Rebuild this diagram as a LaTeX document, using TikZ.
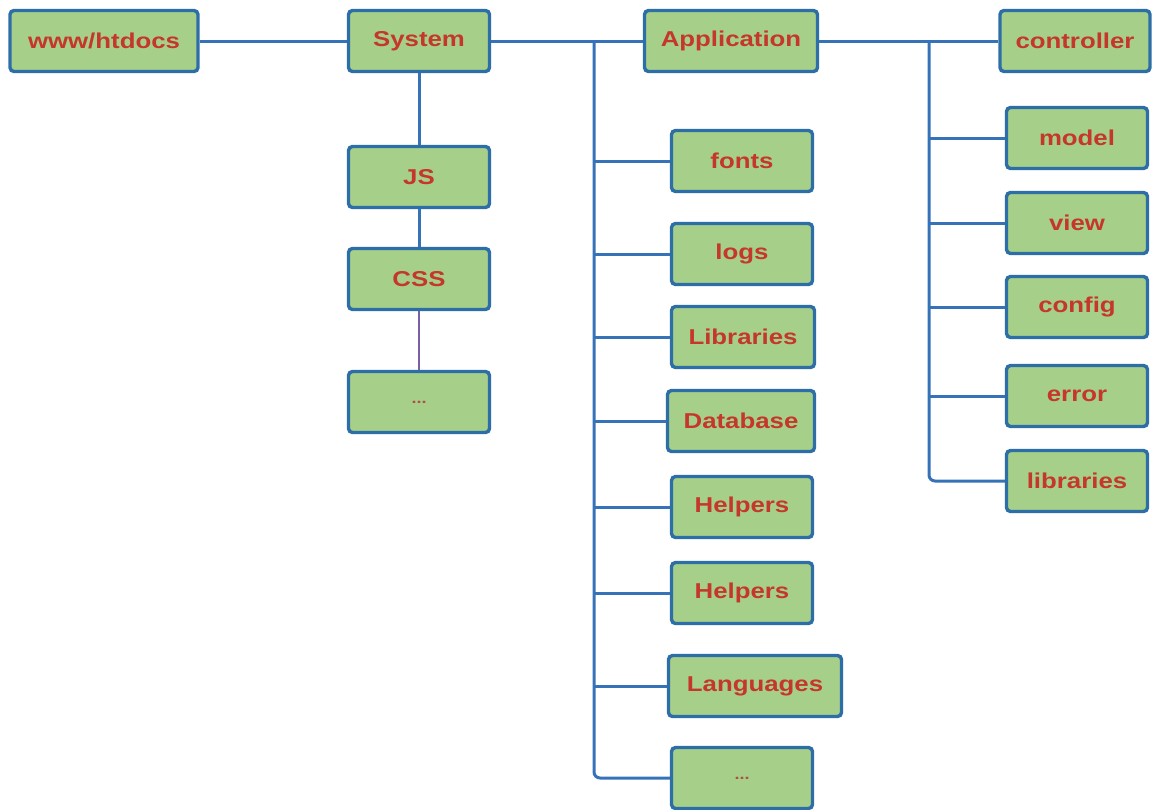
\documentclass[tikz,border=0pt]{standalone}
\usepackage{fontspec}
\newfontfamily\boxfont{Liberation Sans}[FakeStretch=1.2]
\definecolor{boxfill}{HTML}{A6D08A}
\definecolor{boxedge}{HTML}{2E6EA6}
\definecolor{linkblue}{HTML}{3572B8}
\definecolor{labelred}{HTML}{C5372A}
\definecolor{thinlink}{HTML}{7A5EA8}
\begin{document}
\begin{tikzpicture}[x=1pt,y=-1pt,
  folder/.style={draw=boxedge, line width=3.4pt, fill=boxfill, rounded corners=4pt,
    minimum width=141pt, minimum height=61pt, inner sep=0pt,
    font=\boxfont\bfseries\fontsize{21.5}{24}\selectfont, text=labelred},
  dots/.style={font=\boxfont\bfseries\fontsize{15}{17}\selectfont, text=labelred!70!gray},
  link/.style={draw=linkblue, line width=3pt},
  trunk/.style={link, rounded corners=6pt}]
\useasboundingbox (0,0) rectangle (1153,809);

% top row
\node[folder, minimum width=188pt] (www) at (104,41) {www/htdocs};
\node[folder] (sys) at (419,41) {System};
\node[folder, minimum width=173pt] (app) at (731,41) {Application};
\node[folder, minimum width=150pt] (ctrl) at (1075,41) {controller};

% System column
\node[folder] (js) at (419,177) {JS};
\node[folder] (css) at (419,279) {CSS};
\node[folder, dots] (sysmore) at (419,402) {...};

% Application column
\node[folder] (fonts) at (742,161) {fonts};
\node[folder] (logs) at (742,254) {logs};
\node[folder, minimum width=143pt] (libs) at (743,337) {Libraries};
\node[folder, minimum width=147pt] (db) at (741,421) {Database};
\node[folder] (help1) at (742,507) {Helpers};
\node[folder] (help2) at (742,593) {Helpers};
\node[folder, minimum width=173pt] (lang) at (755,686) {Languages};
\node[folder, dots] (appmore) at (742,778) {...};

% controller column
\node[folder] (model) at (1077,138) {model};
\node[folder] (view) at (1077,223) {view};
\node[folder] (config) at (1077,307) {config};
\node[folder] (error) at (1077,396) {error};
\node[folder] (clibs) at (1077,481) {libraries};

% branching points
\coordinate (ta) at (594,41);
\coordinate (tc) at (929,41);

% connectors
\draw[link] (www.east) -- (sys.west);
\draw[link] (sys.east) -- (app.west);
\draw[link] (app.east) -- (ctrl.west);
\draw[link] (sys.south) -- (js.north);
\draw[link] (js.south) -- (css.north);
\draw[draw=thinlink, line width=1.3pt] (css.south) -- (sysmore.north);

\draw[trunk] (ta) |- (appmore.west);
\foreach \n in {fonts,logs,libs,db,help1,help2,lang}
  \draw[link] (ta |- \n.west) -- (\n.west);

\draw[trunk] (tc) |- (clibs.west);
\foreach \n in {model,view,config,error}
  \draw[link] (tc |- \n.west) -- (\n.west);
\end{tikzpicture}
\end{document}
